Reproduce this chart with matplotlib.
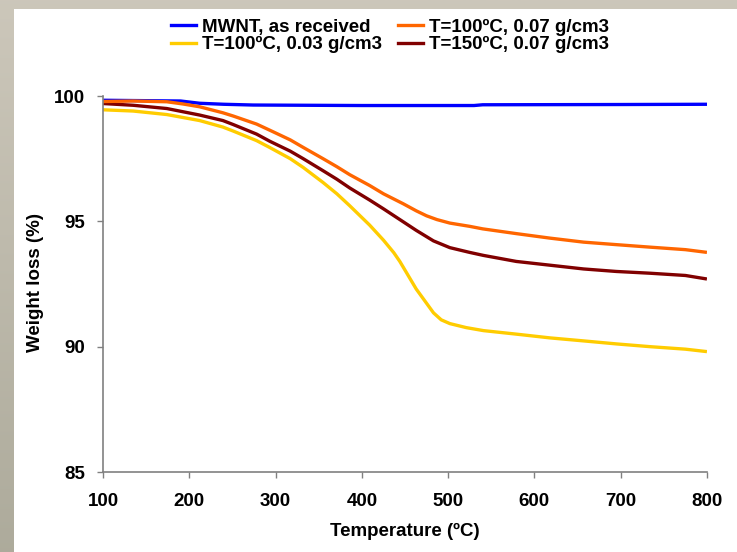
import numpy as np
import matplotlib
matplotlib.use("Agg")
import matplotlib.pyplot as plt
from matplotlib.patches import Rectangle

plt.rcParams['font.family'] = ['Liberation Sans', 'DejaVu Sans']
plt.rcParams['font.weight'] = 'bold'

# Thermogravimetric curves (temperature in ºC, remaining weight in %)
t_mwnt = [100, 190, 212, 240, 274, 400, 530, 540, 700, 800]
w_mwnt = [99.83, 99.80, 99.71, 99.67, 99.64, 99.62, 99.62, 99.65, 99.66, 99.67]

t_100_007 = [100, 135, 174, 193, 212, 239, 251, 278, 293, 317, 332, 355, 371, 386, 409, 425, 448,
             463, 475, 487, 502, 525, 540, 579, 618, 657, 695, 734, 775, 798]
w_100_007 = [99.78, 99.80, 99.77, 99.68, 99.57, 99.33, 99.20, 98.88, 98.64, 98.25, 97.95, 97.50,
             97.18, 96.86, 96.43, 96.10, 95.70, 95.42, 95.22, 95.07, 94.93, 94.80, 94.70, 94.51,
             94.33, 94.17, 94.07, 93.97, 93.87, 93.77]

t_100_003 = [100, 135, 174, 212, 239, 251, 278, 293, 317, 332, 355, 371, 386, 409, 425, 437, 444,
             463, 483, 492, 502, 521, 541, 579, 618, 657, 695, 734, 775, 798]
w_100_003 = [99.45, 99.40, 99.26, 99.02, 98.76, 98.60, 98.22, 97.95, 97.50, 97.15, 96.55, 96.10,
             95.62, 94.85, 94.25, 93.75, 93.40, 92.30, 91.35, 91.07, 90.92, 90.76, 90.64, 90.50,
             90.35, 90.23, 90.11, 90.00, 89.90, 89.81]

t_150_007 = [100, 135, 174, 212, 239, 251, 278, 293, 317, 332, 355, 371, 386, 409, 425, 448, 463,
             483, 502, 525, 541, 579, 618, 657, 695, 734, 775, 798]
w_150_007 = [99.70, 99.63, 99.50, 99.24, 99.02, 98.86, 98.48, 98.20, 97.80, 97.50, 97.02, 96.68,
             96.33, 95.85, 95.50, 94.98, 94.64, 94.22, 93.95, 93.76, 93.64, 93.40, 93.25, 93.10,
             93.00, 92.93, 92.84, 92.71]

x_ticks = [100, 200, 300, 400, 500, 600, 700, 800]
y_ticks = [85, 90, 95, 100]

W, H = 737, 552
FS = 13.5
fig = plt.figure(figsize=(W / 100, H / 100), dpi=100)

# slide-style backdrop: greyish gradient frame with a white panel
bg = fig.add_axes([0, 0, 1, 1], zorder=-10)
grad = np.linspace(0, 1, 256).reshape(-1, 1)
c_top = np.array([0.80, 0.78, 0.73])
c_bot = np.array([0.68, 0.67, 0.61])
img = c_top[None, None, :] * (1 - grad[:, :, None]) + c_bot[None, None, :] * grad[:, :, None]
bg.imshow(img, aspect='auto', extent=[0, 1, 0, 1])
bg.add_patch(Rectangle((14 / W, 0), 1, 1 - 9 / H, facecolor='white', edgecolor='none'))
bg.set_xlim(0, 1)
bg.set_ylim(0, 1)
bg.axis('off')

ax = fig.add_axes([103 / W, 1 - 472 / H, (707 - 103) / W, (472 - 96) / H])
ax.set_facecolor('none')

lw = 2.4
l1, = ax.plot(t_mwnt, w_mwnt, color='#0000ff', lw=lw, solid_joinstyle='round')
l3, = ax.plot(t_100_003, w_100_003, color='#ffcc00', lw=lw, solid_joinstyle='round')
l4, = ax.plot(t_150_007, w_150_007, color='#800000', lw=lw, solid_joinstyle='round')
l2, = ax.plot(t_100_007, w_100_007, color='#ff6600', lw=lw, solid_joinstyle='round')

ax.set_xlim(100, 800)
ax.set_ylim(85, 100)
ax.set_xticks(x_ticks)
ax.set_yticks(y_ticks)
ax.tick_params(direction='out', length=4.5, width=1, color='#808080', labelsize=FS)
ax.tick_params(axis='y', pad=8.5)
ax.tick_params(axis='x', pad=10.5)
for lab in ax.get_xticklabels() + ax.get_yticklabels():
    lab.set_fontweight('bold')
for side in ['top', 'right']:
    ax.spines[side].set_visible(False)
for side in ['left', 'bottom']:
    ax.spines[side].set_color('#808080')
    ax.spines[side].set_linewidth(1.2)

ax.set_xlabel('Temperature (ºC)', fontsize=FS, fontweight='bold')
ax.set_ylabel('Weight loss (%)', fontsize=FS, fontweight='bold')
ax.xaxis.set_label_coords(0.5, (472 - 531) / 376)
ax.xaxis.label.set_va('center')
ax.yaxis.set_label_coords((35.5 - 103) / 604, (472 - 283) / 376)
ax.yaxis.label.set_va('center')

fig.legend([l1, l3, l2, l4],
           ['MWNT, as received', 'T=100ºC, 0.03 g/cm3', 'T=100ºC, 0.07 g/cm3', 'T=150ºC, 0.07 g/cm3'],
           ncol=2, loc='center', bbox_to_anchor=(390 / W, 1 - 36 / H), frameon=False,
           prop={'weight': 'bold', 'size': FS}, handlelength=1.35, handletextpad=0.3,
           columnspacing=0.85, labelspacing=0.0, borderpad=0)

fig.savefig('out.png', dpi=100)
